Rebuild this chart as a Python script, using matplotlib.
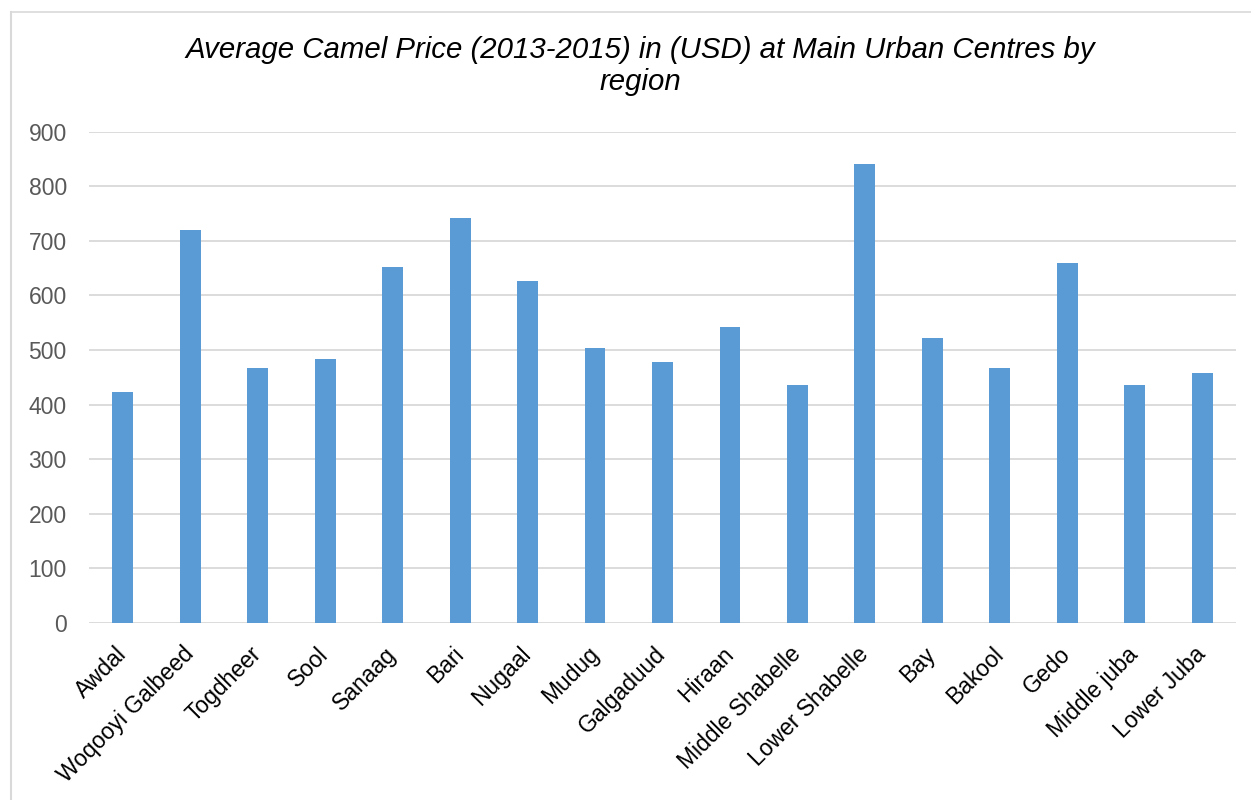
import matplotlib.pyplot as plt
from matplotlib.lines import Line2D

regions = ["Awdal", "Woqooyi Galbeed", "Togdheer", "Sool", "Sanaag", "Bari",
           "Nugaal", "Mudug", "Galgaduud", "Hiraan", "Middle Shabelle",
           "Lower Shabelle", "Bay", "Bakool", "Gedo", "Middle juba", "Lower Juba"]
prices = [423, 720, 467, 484, 652, 741, 626, 503, 478, 543, 436, 840, 523, 467, 660, 436, 458]
yticks = [0, 100, 200, 300, 400, 500, 600, 700, 800, 900]
title_lines = ["Average Camel Price (2013-2015) in (USD) at Main Urban Centres by", "region"]

plt.rcParams['font.family'] = ['Liberation Sans', 'DejaVu Sans']

W, H = 1251, 800
fig = plt.figure(figsize=(W / 100, H / 100), dpi=100)
ax = fig.add_axes([89 / W, 1 - 623 / H, (1236 - 89) / W, (623 - 131.7) / H])

x = range(len(regions))
ax.bar(x, prices, width=0.31, color='#5B9BD5', zorder=3)

ax.set_xlim(-0.5, len(regions) - 0.5)
ax.set_ylim(0, 900)
ax.set_yticks(yticks)
ax.set_xticks(list(x))
ax.set_xticklabels(regions, rotation=45, ha='right', va='center', rotation_mode='anchor')
ax.tick_params(axis='both', length=0, labelsize=16.5)
ax.tick_params(axis='y', pad=16, labelcolor='#595959')
ax.tick_params(axis='x', pad=20, labelcolor='#000000')
ax.grid(axis='y', color='#D9D9D9', linewidth=1.3, zorder=0)
for s in ax.spines.values():
    s.set_visible(False)

# two-line italic title
fig.text(640 / W, 1 - 58 / H, title_lines[0], ha='center', va='baseline',
         fontsize=21.2, style='italic')
fig.text(640 / W, 1 - 90 / H, title_lines[1], ha='center', va='baseline',
         fontsize=21.2, style='italic')

# chart frame (left and top edges visible)
fig.add_artist(Line2D([11 / W, 11 / W], [0, 1 - 11.5 / H], color='#D9D9D9', lw=1.5))
fig.add_artist(Line2D([11 / W, 1], [1 - 11.5 / H, 1 - 11.5 / H], color='#D9D9D9', lw=1.2))

fig.savefig('out.png', dpi=100)
